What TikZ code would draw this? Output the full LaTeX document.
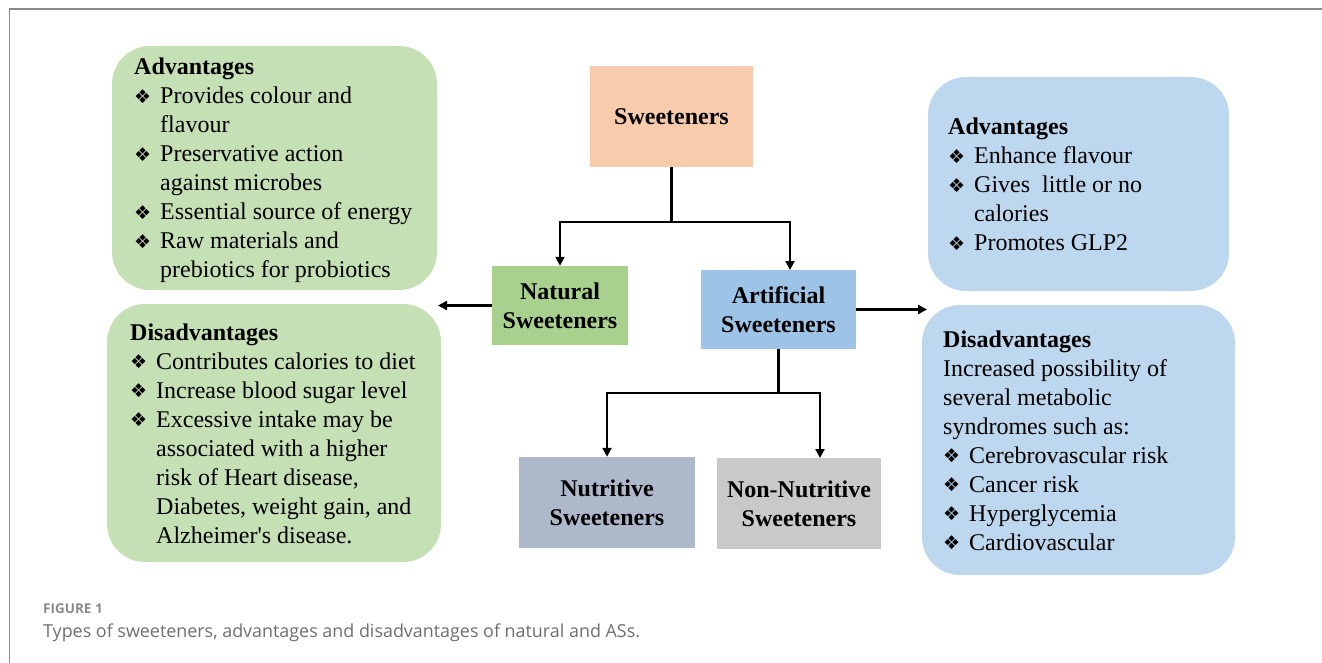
\documentclass[tikz,border=0pt]{standalone}
\usepackage{fontspec}
\setmainfont{Liberation Serif}
\newfontfamily\serifface{Liberation Serif}
\newfontfamily\dejavu{DejaVu Sans}
\newfontfamily\capfont{Open Sans}
\usetikzlibrary{arrows.meta}
\definecolor{lgreen}{HTML}{C5E0B4}
\definecolor{mgreen}{HTML}{A9D18E}
\definecolor{peach}{HTML}{F8CBAD}
\definecolor{mblue}{HTML}{9DC3E6}
\definecolor{lblue}{HTML}{BDD7EE}
\definecolor{slate}{HTML}{ADB9CA}
\definecolor{lgray}{HTML}{C9C9C9}
\definecolor{framegray}{HTML}{8A8A8A}
\definecolor{capgray}{HTML}{6E6E6E}
\newcommand\itm{\makebox[26pt][l]{\raisebox{0.5pt}{\dejavu\fontsize{19}{19}\selectfont ❖}}}
\newcommand\cont{\hspace*{26pt}}
\newcommand\bodytext[1]{\parbox[t]{330pt}{\serifface\fontsize{24}{29}\selectfont #1}}
\tikzset{
  sbox/.style={rectangle, inner sep=0pt, align=center, font=\serifface\fontsize{24}{29}\selectfont\bfseries},
  rbox/.style={rectangle, rounded corners=38pt, inner sep=0pt},
  txt/.style={inner sep=0pt, anchor=base west},
  line/.style={line width=2.4pt, black},
  arr/.style={line width=2.4pt, black, -{Triangle[length=9pt,width=9pt]}},
}
\begin{document}
\begin{tikzpicture}[x=1pt,y=-1pt]
\useasboundingbox (0,0) rectangle (1322,663);
% frame
\draw[framegray, line width=1.6pt] (9.3,663) -- (9.3,9.3) -- (1322,9.3);

% rounded info boxes
\node[rbox, fill=lgreen, minimum width=325, minimum height=244] (advL) at (274.5,168) {};
\node[rbox, fill=lgreen, minimum width=334, minimum height=258] (disL) at (274,433) {};
\node[rbox, fill=lblue, minimum width=301, minimum height=214] (advR) at (1078.5,184) {};
\node[rbox, fill=lblue, minimum width=313, minimum height=270] (disR) at (1078.5,440) {};

\node[txt] (advLt) at (134,75) {\bodytext{\textbf{Advantages}\\
\itm Provides colour and\\
\cont flavour\\
\itm Preservative action\\
\cont against microbes\\
\itm Essential source of energy\\
\itm Raw materials and\\
\cont prebiotics for probiotics}};

\node[txt] (disLt) at (130,340) {\bodytext{\textbf{Disadvantages}\\
\itm Contributes calories to diet\\
\itm Increase blood sugar level\\
\itm Excessive intake may be\\
\cont associated with a higher\\
\cont risk of Heart disease,\\
\cont Diabetes, weight gain, and\\
\cont Alzheimer's disease.}};

\node[txt] (advRt) at (948,135) {\bodytext{\textbf{Advantages}\\
\itm Enhance flavour\\
\itm Gives\ \ little or no\\
\cont calories\\
\itm Promotes GLP2}};

\node[txt] (disRt) at (943,347) {\bodytext{\textbf{Disadvantages}\\
Increased possibility of\\
several metabolic\\
syndromes such as:\\
\itm Cerebrovascular risk\\
\itm Cancer risk\\
\itm Hyperglycemia\\
\itm Cardiovascular}};

% category boxes
\node[sbox, fill=peach, minimum width=163, minimum height=101] (sw) at (671.5,116.5) {Sweeteners};
\node[sbox, fill=mgreen, minimum width=136, minimum height=79] (nat) at (560,305.5) {Natural\\Sweeteners};
\node[sbox, fill=mblue, minimum width=155, minimum height=79] (art) at (778.5,309.5) {Artificial\\Sweeteners};
\node[sbox, fill=slate, minimum width=176, minimum height=91] (nut) at (607,502.5) {Nutritive\\Sweeteners};
\node[sbox, fill=lgray, minimum width=164, minimum height=91] (non) at (799,503.5) {Non-Nutritive\\Sweeteners};

% connectors
\coordinate (j1) at (671.5,222);
\coordinate (artIn) at (790,270);
\coordinate (j2) at (778.5,393);
\coordinate (nonIn) at (820,458);
\coordinate (lTip) at (438,305.5);
\coordinate (rTip) at (927,309.5);
\draw[line] (sw.south) -- (j1);
\draw[arr] (j1) -| (nat.north);
\draw[arr] (j1) -| (artIn);
\draw[line] (art.south) -- (j2);
\draw[arr] (j2) -| (nut.north);
\draw[arr] (j2) -| (nonIn);
\draw[arr] (nat.west) -- (lTip);
\draw[arr] (art.east) -- (rTip);

% caption
\node[txt, font=\capfont\bfseries\fontsize{13.5}{16}\selectfont, text=framegray] (figlab) at (43,613) {FIGURE 1};
\node[txt, font=\capfont\fontsize{17.9}{20}\selectfont, text=capgray] (cap) at (43,637) {Types of sweeteners, advantages and disadvantages of natural and ASs.};
\end{tikzpicture}
\end{document}
